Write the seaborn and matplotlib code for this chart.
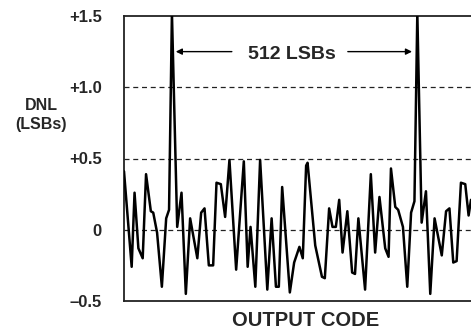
import matplotlib
matplotlib.use('Agg')
import matplotlib.pyplot as plt
import seaborn as sns

# DNL trace (output code, DNL in LSBs)
codes = [0, 16, 22, 30, 39, 46, 56, 61, 69, 79, 88, 94, 100, 111, 120, 129,
         138, 153, 161, 168, 177, 186, 193, 202, 211, 220, 234, 250, 258, 264,
         274, 284, 299, 308, 317, 323, 330, 346, 355, 366, 373, 380, 383, 399,
         413, 419, 428, 435, 442, 449, 456, 466, 476, 482, 489, 503, 515, 524,
         533, 545, 552, 557, 566, 572, 582, 591, 599, 606, 612, 621, 630, 639,
         648, 663, 672, 679, 687, 694, 703, 712, 719, 724]
dnl = [0.41, -0.26, 0.26, -0.13, -0.20, 0.39, 0.13, 0.12, -0.02, -0.40, 0.08,
       0.14, 1.52, 0.02, 0.26, -0.45, 0.08, -0.20, 0.12, 0.15, -0.25, -0.25,
       0.33, 0.32, 0.09, 0.49, -0.28, 0.48, -0.26, 0.02, -0.40, 0.49, -0.42,
       0.08, -0.40, -0.40, 0.30, -0.44, -0.23, -0.12, -0.20, 0.45, 0.47, -0.11,
       -0.33, -0.34, 0.15, 0.02, 0.02, 0.21, -0.16, 0.13, -0.30, -0.31, 0.08,
       -0.42, 0.39, -0.16, 0.23, -0.13, -0.19, 0.43, 0.16, 0.14, 0.02, -0.40,
       0.12, 0.20, 1.52, 0.05, 0.27, -0.45, 0.08, -0.18, 0.13, 0.15, -0.23,
       -0.22, 0.33, 0.32, 0.10, 0.21]

ytick_vals = [-0.5, 0, 0.5, 1.0, 1.5]
ytick_labels = ['\u20130.5', '0', '+0.5', '+1.0', '+1.5']
grid_vals = [0, 0.5, 1.0]
peak_codes = [100, 612]

sns.set_style('white')
plt.rcParams['font.family'] = ['Liberation Sans', 'DejaVu Sans']
plt.rcParams['font.weight'] = 'bold'

fig = plt.figure(figsize=(4.71, 3.31), dpi=100)
ax = fig.add_axes([124 / 471, 1 - 301 / 331, 1 - 124 / 471, (301 - 16) / 331])

for g in grid_vals:
    ax.axhline(g, color='#222222', lw=0.9, linestyle=(0, (4, 3)), zorder=1)

sns.lineplot(x=codes, y=dnl, ax=ax, color='black', lw=1.8,
             estimator=None, sort=False, zorder=3)

ax.set_xlim(0, 724)
ax.set_ylim(-0.5, 1.5)
ax.set_xticks([])
ax.set_yticks(ytick_vals)
ax.set_yticklabels(ytick_labels, fontsize=12, fontweight='bold')
ax.tick_params(axis='y', length=0, pad=16)
ax.set_xlabel('')
ax.set_ylabel('')

for side in ['left', 'top', 'bottom']:
    ax.spines[side].set_color('#222222')
    ax.spines[side].set_linewidth(1.3)
ax.spines['right'].set_visible(False)

# 512 LSBs span annotation
mid = (peak_codes[0] + peak_codes[1]) / 2
arrow_y = 1.25
ax.annotate('', xy=(peak_codes[0] + 8, arrow_y), xytext=(225, arrow_y),
            arrowprops=dict(arrowstyle='-|>', color='black', lw=1.0,
                            mutation_scale=9, shrinkA=0, shrinkB=0))
ax.annotate('', xy=(peak_codes[1] - 11, arrow_y), xytext=(467, arrow_y),
            arrowprops=dict(arrowstyle='-|>', color='black', lw=1.0,
                            mutation_scale=9, shrinkA=0, shrinkB=0))
ax.text(mid - 5, arrow_y - 0.02, '512 LSBs', ha='center', va='center',
        fontsize=14, fontweight='bold')

fig.text(41 / 471, 1 - 115 / 331, 'DNL\n(LSBs)', ha='center', va='center',
         fontsize=11.5, fontweight='bold', linespacing=1.35)
fig.text(306 / 471, 1 - 321 / 331, 'OUTPUT CODE', ha='center', va='center',
         fontsize=14.5, fontweight='bold')

fig.savefig('out.png', dpi=100)
